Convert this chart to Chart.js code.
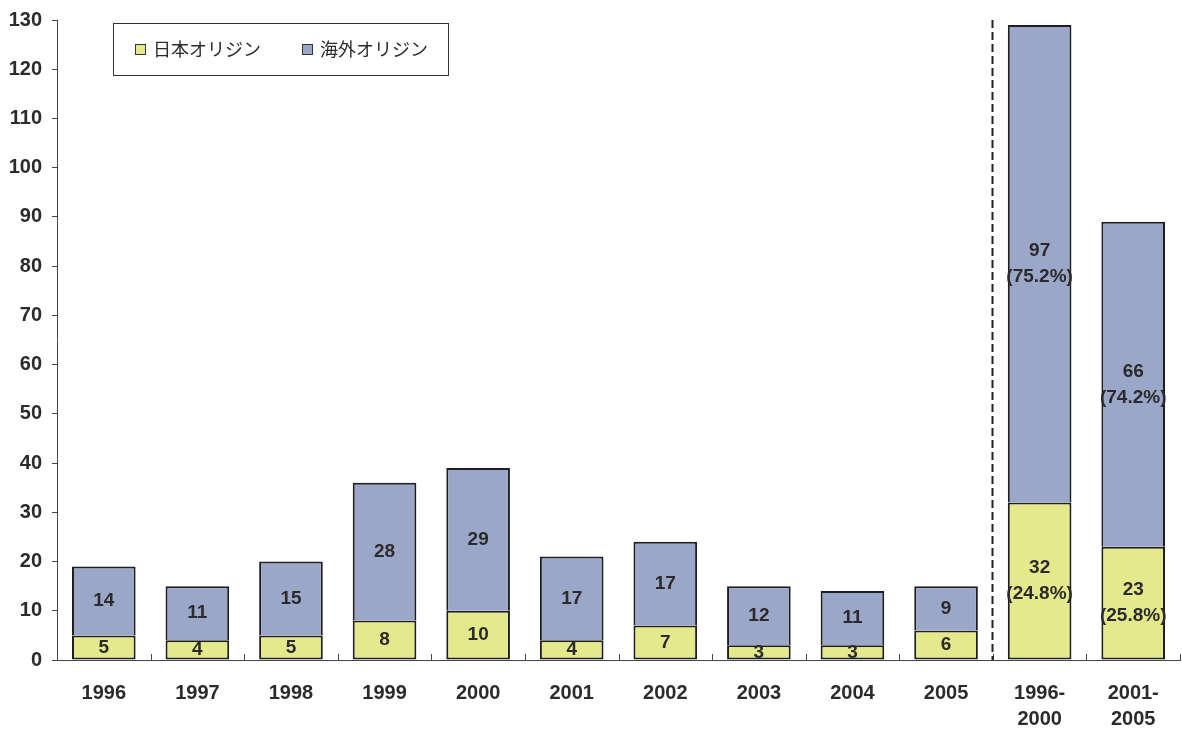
<!DOCTYPE html>
<html>
<head>
<meta charset="utf-8">
<script src="https://cdn.jsdelivr.net/npm/chart.js@4/dist/chart.umd.min.js"></script>
<style>
  html, body { margin: 0; padding: 0; background: #fff; }
  #wrap { width: 1182px; height: 733px; }
</style>
</head>
<body>
<div id="wrap"><canvas id="origin-chart"></canvas></div>
<script>
const categories = ['1996', '1997', '1998', '1999', '2000', '2001', '2002', '2003', '2004', '2005',
                    ['1996-', '2000'], ['2001-', '2005']];
const japanOrigin    = [5, 4, 5, 8, 10, 4, 7, 3, 3, 6, 32, 23];
const overseasOrigin = [14, 11, 15, 28, 29, 17, 17, 12, 11, 9, 97, 66];
const japanShare     = [null, null, null, null, null, null, null, null, null, null, 24.8, 25.8];
const overseasShare  = [null, null, null, null, null, null, null, null, null, null, 75.2, 74.2];
const yTicks = [0, 10, 20, 30, 40, 50, 60, 70, 80, 90, 100, 110, 120, 130];

const TEXT = '#2b2b2b';
const FONT = '"Liberation Sans", Arial, sans-serif';

// 棒の中に件数（集計列は割合も）を書く
const barLabels = {
    id: 'barLabels',
    afterDatasetsDraw(chart) {
        const ctx = chart.ctx;
        ctx.save();
        ctx.fillStyle = TEXT;
        ctx.font = 'bold 19px ' + FONT;
        ctx.textAlign = 'center';
        ctx.textBaseline = 'middle';
        const shares = [japanShare, overseasShare];
        chart.data.datasets.forEach((ds, di) => {
            chart.getDatasetMeta(di).data.forEach((bar, i) => {
                const mid = (bar.y + bar.base) / 2;
                const pct = shares[di][i];
                if (pct == null) {
                    ctx.fillText(String(ds.data[i]), bar.x, mid);
                } else {
                    ctx.fillText(String(ds.data[i]), bar.x, mid - 13);
                    ctx.fillText('(' + pct.toFixed(1) + '%)', bar.x, mid + 13);
                }
            });
        });
        ctx.restore();
    }
};

// 年別と期間集計の区切り線、x軸の内向き目盛り
const axisExtras = {
    id: 'axisExtras',
    afterDatasetsDraw(chart) {
        const ctx = chart.ctx;
        const x = chart.scales.x;
        const area = chart.chartArea;
        ctx.save();
        ctx.strokeStyle = '#444';
        ctx.lineWidth = 1;
        for (let i = 0; i <= categories.length; i++) {
            const px = Math.round(x.getPixelForValue(i - 0.5)) + 0.5;
            ctx.beginPath();
            ctx.moveTo(px, area.bottom);
            ctx.lineTo(px, area.bottom - 6);
            ctx.stroke();
        }
        const split = Math.round(x.getPixelForValue(9.5)) - 0.5;
        ctx.strokeStyle = '#222';
        ctx.lineWidth = 2;
        ctx.setLineDash([8, 4]);
        ctx.beginPath();
        ctx.moveTo(split, area.top);
        ctx.lineTo(split, area.bottom);
        ctx.stroke();
        ctx.restore();
    }
};

// 凡例（グラフ内の枠付き）
const boxLegend = {
    id: 'boxLegend',
    afterDraw(chart) {
        const ctx = chart.ctx;
        const left = 113, top = 23, w = 335, h = 52;
        ctx.save();
        ctx.fillStyle = '#fff';
        ctx.fillRect(left, top, w, h);
        ctx.strokeStyle = '#333';
        ctx.lineWidth = 1;
        ctx.strokeRect(left + 0.5, top + 0.5, w, h);
        ctx.font = '18px "Noto Sans CJK JP", sans-serif';
        ctx.textBaseline = 'middle';
        const items = [[135, 0], [302, 1]];
        items.forEach(([x, di]) => {
            const ds = chart.data.datasets[di];
            const cy = top + h / 2;
            ctx.fillStyle = ds.backgroundColor;
            ctx.fillRect(x, cy - 5, 11, 11);
            ctx.strokeStyle = '#333';
            ctx.strokeRect(x + 0.5, cy - 5 + 0.5, 10, 10);
            ctx.fillStyle = TEXT;
            ctx.fillText(ds.label, x + 18, cy);
        });
        ctx.restore();
    }
};

new Chart(document.getElementById('origin-chart'), {
    type: 'bar',
    data: {
        labels: categories,
        datasets: [{
            label: '日本オリジン',
            data: japanOrigin,
            backgroundColor: '#e4e98c',
            borderColor: '#1e1e1e',
            borderWidth: 2,
            borderSkipped: false,
            barPercentage: 0.68,
            categoryPercentage: 1,
        }, {
            label: '海外オリジン',
            data: overseasOrigin,
            backgroundColor: '#9ba7c8',
            borderColor: '#1e1e1e',
            borderWidth: 2,
            borderSkipped: 'start',
            barPercentage: 0.68,
            categoryPercentage: 1,
        }],
    },
    options: {
        responsive: true,
        maintainAspectRatio: false,
        animation: false,
        layout: { padding: { top: 6, right: 2, bottom: 0, left: 0 } },
        plugins: {
            legend: { display: false },
            tooltip: { enabled: false },
        },
        scales: {
            x: {
                stacked: true,
                grid: { display: false },
                border: { display: true, color: '#444', width: 1 },
                ticks: {
                    color: TEXT,
                    font: { family: FONT, size: 20, weight: 'bold', lineHeight: 1.3 },
                    padding: 12,
                    maxRotation: 0,
                },
                afterFit(scale) { scale.height = 73; },
            },
            y: {
                stacked: true,
                min: 0,
                max: 130,
                afterBuildTicks(scale) { scale.ticks = yTicks.map(v => ({ value: v })); },
                grid: { drawOnChartArea: false, tickLength: 5, color: '#444' },
                border: { display: true, color: '#444', width: 1 },
                ticks: {
                    color: TEXT,
                    font: { family: FONT, size: 20, weight: 'bold', lineHeight: 1 },
                    padding: 10,
                },
                afterFit(scale) { scale.width = 57; },
            },
        },
    },
    plugins: [barLabels, axisExtras, boxLegend],
});
</script>
</body>
</html>
